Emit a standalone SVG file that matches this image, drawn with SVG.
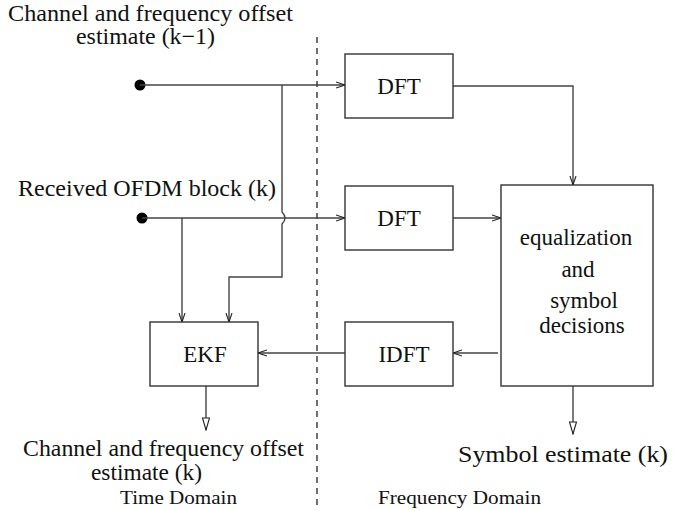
<svg xmlns="http://www.w3.org/2000/svg" width="681" height="510" viewBox="0 0 681 510">
<defs>
<marker id="stick" markerWidth="10" markerHeight="8" refX="9" refY="4" orient="auto" markerUnits="userSpaceOnUse">
<path d="M0,1 L9,4 L0,7" fill="none" stroke="#222" stroke-width="1.1"/>
</marker>
<marker id="tri" markerWidth="14" markerHeight="10" refX="13" refY="4" orient="auto" markerUnits="userSpaceOnUse">
<path d="M1,0.5 L13,4 L1,7.5 Z" fill="#fff" stroke="#222" stroke-width="1.1"/>
</marker>
</defs>
<style>
.box{fill:#fff;stroke:#333;stroke-width:1.4}
.ln{fill:none;stroke:#444;stroke-width:1.4}
</style>
<rect width="681" height="510" fill="#fff"/>
<line x1="317" y1="37" x2="317" y2="510" stroke="#222" stroke-width="1.3" stroke-dasharray="6,5"/>
<g id="connectors">
<circle cx="140" cy="85" r="5.5" fill="#000"/>
<circle cx="142" cy="218" r="5.5" fill="#000"/>
<path class="ln" d="M140,85 H345" marker-end="url(#stick)"/>
<path class="ln" d="M142,218 H345" marker-end="url(#stick)"/>
<path class="ln" d="M282,85 V212 Q288,218 282,224 V277 H229 V322" marker-end="url(#stick)"/>
<path class="ln" d="M182,218 V322" marker-end="url(#stick)"/>
<path class="ln" d="M453,86 H573 V185" marker-end="url(#stick)"/>
<path class="ln" d="M453,218 H501" marker-end="url(#stick)"/>
<path class="ln" d="M498,353 H453" marker-end="url(#stick)"/>
<path class="ln" d="M345,353 H258" marker-end="url(#stick)"/>
<path class="ln" d="M206,386 V430" marker-end="url(#tri)"/>
<path class="ln" d="M573,386 V434" marker-end="url(#tri)"/>
</g>
<g font-family="Liberation Serif, Times New Roman, serif" fill="#111" font-size="23">
<g id="dft1"><rect class="box" x="345" y="54" width="108" height="64"/><text x="399" y="94" text-anchor="middle">DFT</text></g>
<g id="dft2"><rect class="box" x="345" y="186" width="108" height="64"/><text x="399" y="226" text-anchor="middle">DFT</text></g>
<g id="eq"><rect class="box" x="501" y="185" width="152" height="201"/>
<text x="576" y="245" text-anchor="middle">equalization</text>
<text x="578" y="277" text-anchor="middle">and</text>
<text x="584" y="308" text-anchor="middle">symbol</text>
<text x="582" y="333" text-anchor="middle">decisions</text></g>
<g id="idft"><rect class="box" x="345" y="322" width="108" height="64"/><text x="404" y="362" text-anchor="middle">IDFT</text></g>
<g id="ekf"><rect class="box" x="150" y="322" width="108" height="64"/><text x="205" y="362" text-anchor="middle">EKF</text></g>
<g id="labels">
<text x="8" y="21" textLength="285" lengthAdjust="spacingAndGlyphs">Channel and frequency offset</text>
<text x="76" y="44" textLength="139" lengthAdjust="spacingAndGlyphs">estimate (k−1)</text>
<text x="18" y="196" textLength="258" lengthAdjust="spacingAndGlyphs">Received OFDM block (k)</text>
<text x="23" y="456" textLength="281" lengthAdjust="spacingAndGlyphs">Channel and frequency offset</text>
<text x="91" y="480" textLength="111" lengthAdjust="spacingAndGlyphs">estimate (k)</text>
<text x="458" y="462" textLength="210" lengthAdjust="spacingAndGlyphs">Symbol estimate (k)</text>
<text x="120" y="504" font-size="19" textLength="117" lengthAdjust="spacingAndGlyphs">Time Domain</text>
<text x="378" y="504" font-size="19" textLength="163" lengthAdjust="spacingAndGlyphs">Frequency Domain</text>
</g>
</g>
</svg>
